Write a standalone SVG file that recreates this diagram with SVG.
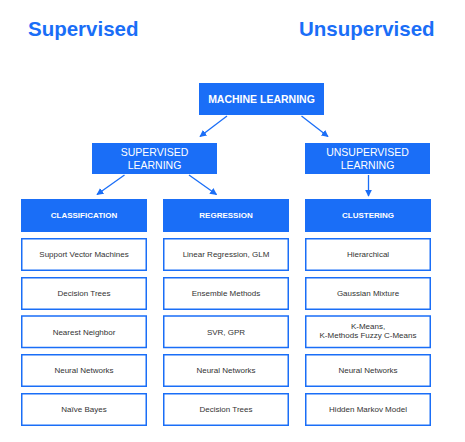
<svg xmlns="http://www.w3.org/2000/svg" width="465" height="442" viewBox="0 0 465 442">
<style>
.title{font-family:"Liberation Sans",Arial,sans-serif;font-weight:bold;font-size:20.5px;fill:#1a6ef7}
.fill{fill:#1a6ef7}
.leaf{fill:#fff;stroke:#1a6ef7;stroke-width:1.5}
.wt{font-family:"Liberation Sans",Arial,sans-serif;fill:#fff;text-anchor:middle}
.lt{font-family:"Liberation Sans",Arial,sans-serif;fill:#333;font-size:8px;text-anchor:middle}
.conn line{stroke:#1a6ef7;stroke-width:1.3}
</style>
<defs>
<marker id="ah" viewBox="0 0 10 10" refX="9" refY="5" markerWidth="7" markerHeight="7" markerUnits="userSpaceOnUse" orient="auto">
<path d="M0,0 L10,5 L0,10 z" fill="#1a6ef7"/>
</marker>
</defs>
<rect width="465" height="442" fill="#fff"/>
<text class="title" x="28" y="36">Supervised</text>
<text class="title" x="299" y="36">Unsupervised</text>

<g class="conn">
<line x1="227" y1="116" x2="200" y2="136.5" marker-end="url(#ah)"/>
<line x1="301.5" y1="116" x2="328" y2="136.5" marker-end="url(#ah)"/>
<line x1="124.5" y1="175" x2="97" y2="194.5" marker-end="url(#ah)"/>
<line x1="189" y1="175" x2="216.5" y2="194.5" marker-end="url(#ah)"/>
<line x1="368.5" y1="175" x2="368.5" y2="196" marker-end="url(#ah)"/>
</g>

<g id="ml"><rect class="fill" x="199" y="83" width="125" height="32"/><text class="wt" x="261.5" y="102.5" font-size="10.5" font-weight="bold">MACHINE LEARNING</text></g>
<g id="sl"><rect class="fill" x="92" y="143" width="125" height="31"/><text class="wt" x="154.5" y="156" font-size="10.5">SUPERVISED</text><text class="wt" x="154.5" y="168.5" font-size="10.5">LEARNING</text></g>
<g id="ul"><rect class="fill" x="305" y="143" width="125" height="31"/><text class="wt" x="367.5" y="156" font-size="10.5">UNSUPERVISED</text><text class="wt" x="367.5" y="168.5" font-size="10.5">LEARNING</text></g>

<g id="classification"><rect class="fill" x="21" y="199" width="126" height="33"/><text class="wt" x="84" y="218" font-size="8" font-weight="bold">CLASSIFICATION</text></g>
<g id="regression"><rect class="fill" x="163" y="199" width="126" height="33"/><text class="wt" x="226" y="218" font-size="8" font-weight="bold">REGRESSION</text></g>
<g id="clustering"><rect class="fill" x="305" y="199" width="126" height="33"/><text class="wt" x="368" y="218" font-size="8" font-weight="bold">CLUSTERING</text></g>

<g id="c1"><rect class="leaf" x="21.75" y="238.75" width="124.5" height="31.5"/><text class="lt" x="84" y="257">Support Vector Machines</text></g>
<g id="c2"><rect class="leaf" x="21.75" y="277.75" width="124.5" height="31.5"/><text class="lt" x="84" y="296">Decision Trees</text></g>
<g id="c3"><rect class="leaf" x="21.75" y="316" width="124.5" height="31.5"/><text class="lt" x="84" y="334.5">Nearest Neighbor</text></g>
<g id="c4"><rect class="leaf" x="21.75" y="354.75" width="124.5" height="31.5"/><text class="lt" x="84" y="373">Neural Networks</text></g>
<g id="c5"><rect class="leaf" x="21.75" y="393.75" width="124.5" height="31.5"/><text class="lt" x="84" y="411.5">Naïve Bayes</text></g>

<g id="r1"><rect class="leaf" x="163.75" y="238.75" width="124.5" height="31.5"/><text class="lt" x="226" y="257">Linear Regression, GLM</text></g>
<g id="r2"><rect class="leaf" x="163.75" y="277.75" width="124.5" height="31.5"/><text class="lt" x="226" y="296">Ensemble Methods</text></g>
<g id="r3"><rect class="leaf" x="163.75" y="316" width="124.5" height="31.5"/><text class="lt" x="226" y="334.5">SVR, GPR</text></g>
<g id="r4"><rect class="leaf" x="163.75" y="354.75" width="124.5" height="31.5"/><text class="lt" x="226" y="373">Neural Networks</text></g>
<g id="r5"><rect class="leaf" x="163.75" y="393.75" width="124.5" height="31.5"/><text class="lt" x="226" y="411.5">Decision Trees</text></g>

<g id="u1"><rect class="leaf" x="305.75" y="238.75" width="124.5" height="31.5"/><text class="lt" x="368" y="257">Hierarchical</text></g>
<g id="u2"><rect class="leaf" x="305.75" y="277.75" width="124.5" height="31.5"/><text class="lt" x="368" y="296">Gaussian Mixture</text></g>
<g id="u3"><rect class="leaf" x="305.75" y="316" width="124.5" height="31.5"/><text class="lt" x="368" y="329">K-Means,</text><text class="lt" x="368" y="338">K-Methods Fuzzy C-Means</text></g>
<g id="u4"><rect class="leaf" x="305.75" y="354.75" width="124.5" height="31.5"/><text class="lt" x="368" y="373">Neural Networks</text></g>
<g id="u5"><rect class="leaf" x="305.75" y="393.75" width="124.5" height="31.5"/><text class="lt" x="368" y="411.5">Hidden Markov Model</text></g>
</svg>
